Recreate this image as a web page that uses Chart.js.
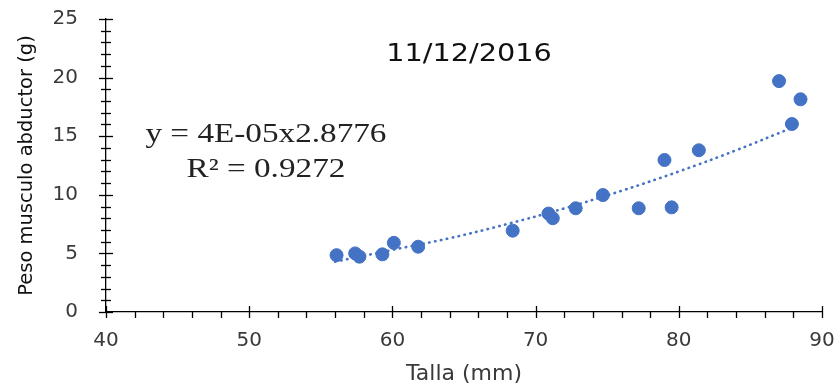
<!DOCTYPE html>
<html>
<head>
<meta charset="utf-8">
<script src="https://cdn.jsdelivr.net/npm/chart.js@4"></script>
<style>
  body { margin: 0; background: #fff; }
  #wrap { width: 837px; height: 392px; }
</style>
</head>
<body>
<div id="wrap"><canvas id="myChart"></canvas></div>
<script>
// datos
const talla = [56.1, 57.4, 57.7, 59.3, 60.1, 61.8, 68.4, 70.9, 71.2, 72.8, 74.7, 77.2, 79.0, 79.5, 81.4, 87.0, 87.9, 88.5];
const peso = [4.85, 5.0, 4.72, 4.92, 5.9, 5.57, 6.94, 8.4, 8.0, 8.85, 9.98, 8.85, 12.97, 8.93, 13.8, 19.7, 16.04, 18.15];

// linea de tendencia (potencial)
const tendX = [56.0, 60, 64, 68, 72, 76, 80, 84, 88.1];
const tendY = [4.29, 5.3, 6.3, 7.5, 8.84, 10.34, 11.99, 13.8, 15.82];

const ticksX = [40, 50, 60, 70, 80, 90];
const ticksY = [0, 5, 10, 15, 20, 25];

const titulo = "11/12/2016";
const ecuacion = ["y = 4E-05x2.8776", "R² = 0.9272"];

const azul = "#4472C4";
const gris = "#3a3a3a";

const puntos = talla.map((t, i) => ({ x: t, y: peso[i] }));
const tendencia = tendX.map((t, i) => ({ x: t, y: tendY[i] }));

// texto ensanchado (el original esta estirado en horizontal)
function textoAncho(ctx, txt, x, y, sx) {
  ctx.save();
  ctx.translate(x, y);
  ctx.scale(sx, 1);
  ctx.fillText(txt, 0, 0);
  ctx.restore();
}

// dibuja titulo, ecuacion y marcas menores
const extras = {
  id: "extras",
  afterDraw(chart) {
    const ctx = chart.ctx;
    const xs = chart.scales.x;
    const ys = chart.scales.y;
    const area = chart.chartArea;
    ctx.save();
    ctx.strokeStyle = "#000";
    ctx.lineWidth = 1.3;
    // marcas eje y
    for (let v = 0; v <= 25; v++) {
      const py = Math.round(ys.getPixelForValue(v)) + 0.5;
      const mayor = v % 5 === 0;
      ctx.beginPath();
      ctx.moveTo(area.left - (mayor ? 7 : 5), py);
      ctx.lineTo(area.left + (mayor ? 7 : 5), py);
      ctx.stroke();
    }
    // marcas eje x
    for (let v = 40; v <= 90; v += 2) {
      const px = Math.round(xs.getPixelForValue(v)) + 0.5;
      const mayor = v % 10 === 0;
      ctx.beginPath();
      ctx.moveTo(px, area.bottom + (mayor ? -6 : 0));
      ctx.lineTo(px, area.bottom + 6);
      ctx.stroke();
    }
    // titulo
    ctx.fillStyle = "#111";
    ctx.font = "25px 'DejaVu Sans'";
    ctx.textAlign = "center";
    ctx.textBaseline = "middle";
    textoAncho(ctx, titulo, xs.getPixelForValue(65.35), ys.getPixelForValue(22.0), 1.15);
    // ecuacion
    ctx.font = "27px 'Liberation Serif'";
    ctx.fillStyle = "#222";
    textoAncho(ctx, ecuacion[0], xs.getPixelForValue(51.17), ys.getPixelForValue(15.1), 1.23);
    textoAncho(ctx, ecuacion[1], xs.getPixelForValue(51.17), ys.getPixelForValue(12.1), 1.23);
    ctx.restore();
  }
};

const config = {
  type: "scatter",
  data: {
    datasets: [
      {
        label: "Peso",
        data: puntos,
        backgroundColor: azul,
        borderColor: azul,
        pointRadius: 6.5,
        pointHoverRadius: 6.5,
        order: 2
      },
      {
        label: "Tendencia",
        type: "line",
        data: tendencia,
        showLine: true,
        fill: false,
        borderColor: azul,
        borderWidth: 2.6,
        borderDash: [0.5, 5.5],
        borderCapStyle: "round",
        pointRadius: 0,
        tension: 0.4,
        order: 1
      }
    ]
  },
  options: {
    responsive: true,
    maintainAspectRatio: false,
    animation: false,
    layout: { padding: { top: 19, right: 15, left: 0, bottom: 0 } },
    plugins: {
      legend: { display: false },
      tooltip: { enabled: false }
    },
    scales: {
      x: {
        type: "linear",
        min: 40,
        max: 90,
        afterBuildTicks: (s) => { s.ticks = ticksX.map((v) => ({ value: v })); },
        afterFit: (s) => {
          s.height = 80;
          s.paddingLeft = 0;
          s.paddingRight = 0;
        },
        grid: { display: false, drawTicks: false },
        border: { display: true, color: "#000", width: 1.3 },
        ticks: { color: gris, font: { family: "DejaVu Sans", size: 20 }, padding: 17 },
        title: {
          display: true,
          text: "Talla (mm)",
          color: gris,
          font: { family: "DejaVu Sans", size: 22 },
          padding: { top: 0, bottom: 5 }
        }
      },
      y: {
        min: 0,
        max: 25,
        afterBuildTicks: (s) => { s.ticks = ticksY.map((v) => ({ value: v })); },
        afterFit: (s) => {
          s.width = 106;
          s.paddingTop = 0;
          s.paddingBottom = 0;
        },
        grid: { display: false, drawTicks: false },
        border: { display: true, color: "#000", width: 1.3 },
        ticks: { color: gris, font: { family: "DejaVu Sans", size: 20 }, padding: 28 },
        title: {
          display: true,
          text: "Peso musculo abductor (g)",
          color: "#111",
          font: { family: "DejaVu Sans", size: 19.5 },
          padding: { top: 15, bottom: 0 }
        }
      }
    }
  },
  plugins: [extras]
};

new Chart(document.getElementById("myChart"), config);
</script>
</body>
</html>
